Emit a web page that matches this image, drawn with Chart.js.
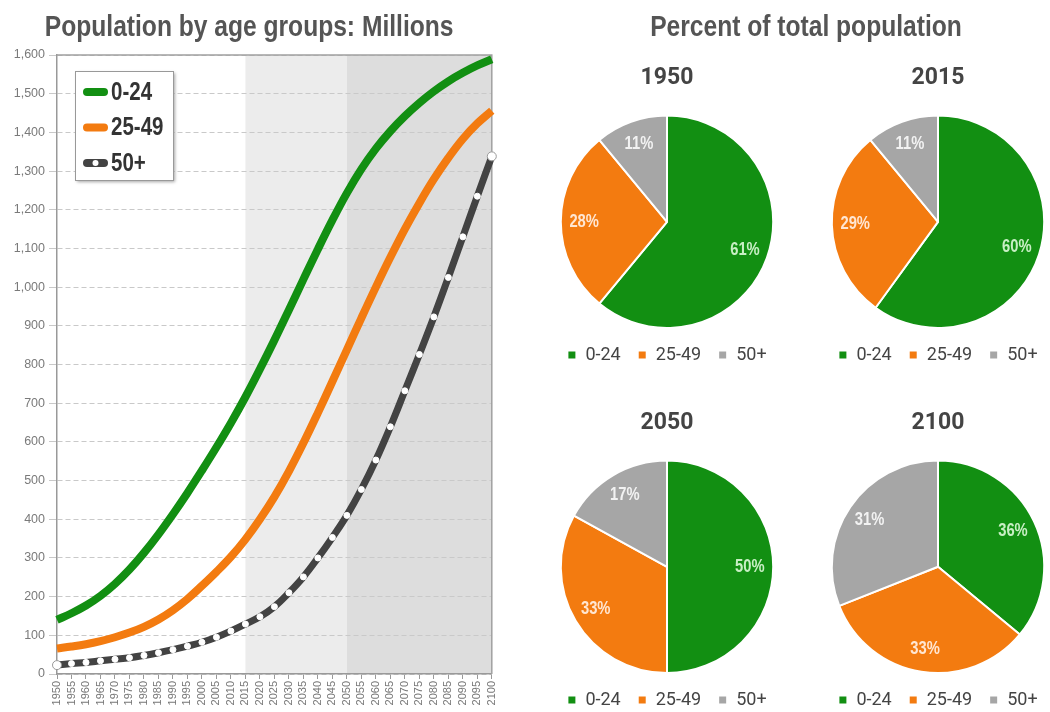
<!DOCTYPE html>
<html>
<head>
<meta charset="utf-8">
<script src="https://cdn.jsdelivr.net/npm/chart.js"></script>
<style>
  body { margin: 0; width: 1050px; height: 712px; overflow: hidden; background: #fff; position: relative; }
  .box { position: absolute; }
  .head { position: absolute; top: 8px; text-align: center; white-space: nowrap;
    font: bold 30px/36px 'Liberation Sans', Arial, sans-serif; color: #555;
    transform: scaleX(0.82); transform-origin: center; }
</style>
</head>
<body>
<div class="box" style="left:0;top:0"><canvas id="lineChart" width="507" height="712"></canvas></div>
<div class="head" style="left:0;width:498px">Population by age groups: Millions</div>
<div class="head" style="left:556px;width:500px">Percent of total population</div>
<div class="box" style="left:532px;top:50px"><canvas id="pie0" width="270" height="324"></canvas></div>
<div class="box" style="left:803px;top:50px"><canvas id="pie1" width="270" height="324"></canvas></div>
<div class="box" style="left:532px;top:395px"><canvas id="pie2" width="270" height="324"></canvas></div>
<div class="box" style="left:803px;top:395px"><canvas id="pie3" width="270" height="324"></canvas></div>
<script>
const years = ['1950', '1955', '1960', '1965', '1970', '1975', '1980', '1985', '1990', '1995', '2000',
    '2005', '2010', '2015', '2020', '2025', '2030', '2035', '2040', '2045', '2050',
    '2055', '2060', '2065', '2070', '2075', '2080', '2085', '2090', '2095', '2100'];
const ageGroups = ['0-24', '25-49', '50+'];

// millions
const age0to24 = [140, 157, 177, 202, 233, 270, 313, 361, 413, 468, 526,
    586, 649, 716, 788, 863, 941, 1020, 1098, 1173, 1243,
    1305, 1358, 1403, 1442, 1476, 1506, 1532, 1554, 1573, 1589];
const age25to49 = [66, 71, 77, 85, 95, 107, 122, 141, 165, 194, 228,
    264, 303, 348, 400, 458, 524, 597, 675, 756, 838,
    920, 1000, 1077, 1150, 1217, 1279, 1334, 1383, 1423, 1456];
const age50plus = [23, 27, 30, 34, 38, 42, 48, 55, 63, 72, 82,
    95, 111, 129, 148, 174, 210, 251, 300, 353, 410,
    477, 553, 639, 732, 826, 923, 1025, 1130, 1235, 1338];

const shadedFrom = ['2015', '2050'];

// percent of total
const pieYears = ['1950', '2015', '2050', '2100'];
const share1950 = [61, 28, 11];
const share2015 = [60, 29, 11];
const share2050 = [50, 33, 17];
const share2100 = [36, 33, 31];

const green = '#128f12';
const orange = '#f37b10';
const dark = '#434343';
const grey = '#a6a6a6';

Chart.defaults.font.family = "'Liberation Sans', Arial, sans-serif";
Chart.defaults.animation = false;

// Arial-Narrow look: squeeze Liberation Sans horizontally
function narrowText(ctx, text, x, y, size, align) {
    ctx.save();
    ctx.font = 'bold ' + size + "px 'Liberation Sans', Arial, sans-serif";
    ctx.textAlign = align;
    ctx.textBaseline = 'middle';
    ctx.translate(x, y);
    ctx.scale(0.82, 1);
    ctx.fillText(text, 0, 0);
    ctx.restore();
}

// shaded projection periods + plot frame
const bands = {
    id: 'bands',
    beforeDraw(chart) {
        const {ctx, chartArea: a, scales: {x}} = chart;
        const fills = ['#ececec', '#dddddd'];
        ctx.save();
        shadedFrom.forEach((yr, i) => {
            const x1 = x.getPixelForValue(years.indexOf(yr));
            const x2 = i + 1 < shadedFrom.length ? x.getPixelForValue(years.indexOf(shadedFrom[i + 1])) : a.right;
            ctx.fillStyle = fills[i];
            ctx.fillRect(x1, a.top, x2 - x1, a.bottom - a.top);
        });
        ctx.restore();
    },
    beforeDatasetsDraw(chart) {
        const {ctx, chartArea: a} = chart;
        ctx.save();
        ctx.strokeStyle = '#a0a0a0';
        ctx.lineWidth = 1.5;
        ctx.beginPath();
        ctx.moveTo(a.left, a.top);
        ctx.lineTo(a.right, a.top);
        ctx.lineTo(a.right, a.bottom);
        ctx.stroke();
        ctx.restore();
    }
};

// framed legend sitting inside the plot
const insideLegend = {
    id: 'insideLegend',
    afterDraw(chart) {
        const {ctx, chartArea} = chart;
        const x0 = chartArea.left + 18, y0 = chartArea.top + 16, w = 98, h = 109;
        ctx.save();
        ctx.shadowColor = 'rgba(0,0,0,0.35)';
        ctx.shadowOffsetX = 2;
        ctx.shadowOffsetY = 2;
        ctx.shadowBlur = 3;
        ctx.fillStyle = '#fff';
        ctx.fillRect(x0, y0, w, h);
        ctx.shadowColor = 'transparent';
        ctx.strokeStyle = '#999';
        ctx.lineWidth = 1;
        ctx.strokeRect(x0 + 0.5, y0 + 0.5, w, h);
        chart.data.datasets.forEach((ds, i) => {
            const y = y0 + 21 + i * 35.5;
            ctx.lineCap = 'round';
            ctx.strokeStyle = ds.borderColor;
            ctx.lineWidth = 8;
            ctx.beginPath();
            ctx.moveTo(x0 + 12, y);
            ctx.lineTo(x0 + 29, y);
            ctx.stroke();
            if (ds.pointRadius !== 0) {
                ctx.fillStyle = '#fff';
                ctx.beginPath();
                ctx.arc(x0 + 20.5, y, 3, 0, Math.PI * 2);
                ctx.fill();
            }
            ctx.fillStyle = '#333';
            narrowText(ctx, ds.label, x0 + 36, y + 1, 25, 'left');
        });
        ctx.restore();
    }
};

new Chart(document.getElementById('lineChart'), {
    type: 'line',
    data: {
        labels: years,
        datasets: [
            { label: ageGroups[0], data: age0to24, borderColor: green, backgroundColor: green,
              borderWidth: 8, pointRadius: 0, tension: 0.4 },
            { label: ageGroups[1], data: age25to49, borderColor: orange, backgroundColor: orange,
              borderWidth: 8, pointRadius: 0, tension: 0.4 },
            { label: ageGroups[2], data: age50plus, borderColor: dark, backgroundColor: '#fff',
              borderWidth: 7, tension: 0.4,
              pointRadius: (c) => (c.dataIndex === 0 || c.dataIndex === years.length - 1) ? 4.5 : 3,
              pointBackgroundColor: '#fff',
              pointBorderColor: (c) => (c.dataIndex === 0 || c.dataIndex === years.length - 1) ? '#999' : '#fff',
              pointBorderWidth: 1 }
        ]
    },
    options: {
        responsive: false,
        layout: { padding: { left: 0, right: 0, top: 55, bottom: 0 } },
        plugins: {
            legend: { display: false },
            tooltip: { enabled: false }
        },
        scales: {
            x: {
                afterFit(scale) { scale.height = 38; },
                grid: { drawOnChartArea: false, drawTicks: true, tickLength: 5, color: '#999' },
                border: { color: '#999', width: 1.5 },
                ticks: { autoSkip: false, maxRotation: 90, minRotation: 90, color: '#777', font: { size: 11 }, padding: 2 }
            },
            y: {
                min: 0,
                max: 1600,
                afterFit(scale) { scale.width = 57; },
                ticks: { stepSize: 100, color: '#7a7a7a', font: { size: 12.5 }, padding: 4 },
                grid: { color: '#c9c9c9', tickLength: 8, lineWidth: 1 },
                border: { color: '#999', width: 1.5, dash: [5, 3] }
            }
        }
    },
    plugins: [bands, insideLegend]
});

// percentage labels inside slices
const sliceLabels = {
    id: 'sliceLabels',
    afterDatasetsDraw(chart) {
        const ctx = chart.ctx;
        const inks = ['#c8efc4', '#ffe6d2', '#f2f2f2'];
        const values = chart.data.datasets[0].data;
        chart.getDatasetMeta(0).data.forEach((arc, i) => {
            const {x, y, startAngle, endAngle, outerRadius} = arc.getProps(['x', 'y', 'startAngle', 'endAngle', 'outerRadius'], true);
            const mid = (startAngle + endAngle) / 2;
            const r = outerRadius * 0.78;
            ctx.fillStyle = inks[i];
            narrowText(ctx, values[i] + '%', x + Math.cos(mid) * r, y + Math.sin(mid) * r, 18, 'center');
        });
    }
};

[share1950, share2015, share2050, share2100].forEach((share, k) => {
    new Chart(document.getElementById('pie' + k), {
        type: 'pie',
        data: {
            labels: ageGroups,
            datasets: [{
                data: share,
                backgroundColor: [green, orange, grey],
                borderColor: '#fff',
                borderWidth: 2
            }]
        },
        options: {
            responsive: false,
            layout: { padding: 0 },
            plugins: {
                tooltip: { enabled: false },
                title: {
                    display: true,
                    text: pieYears[k],
                    color: '#444',
                    font: { family: 'Roboto', size: 23, weight: 'bold' },
                    padding: { top: 14, bottom: 23 }
                },
                legend: {
                    position: 'bottom',
                    labels: {
                        boxWidth: 9,
                        boxHeight: 9,
                        padding: 17,
                        color: '#444',
                        font: { family: 'Roboto', size: 18 }
                    }
                }
            }
        },
        plugins: [sliceLabels]
    });
});
</script>
</body>
</html>
